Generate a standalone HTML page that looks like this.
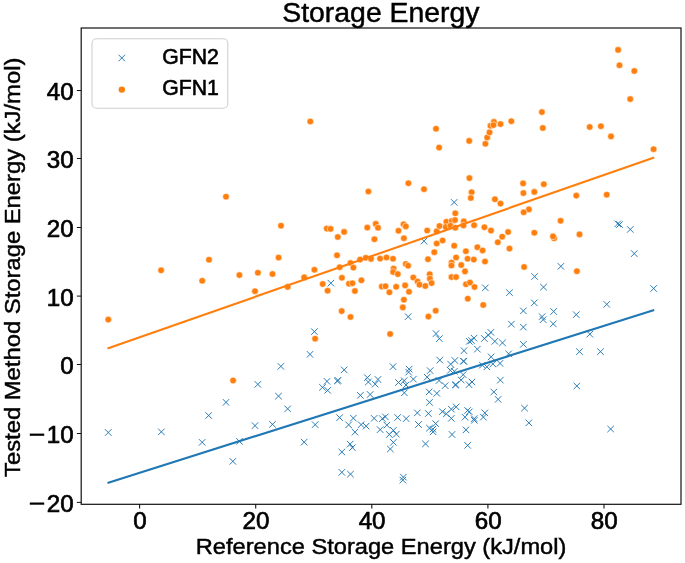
<!DOCTYPE html>
<html><head><meta charset="utf-8"><style>html,body{margin:0;padding:0;background:#fff;width:685px;height:563px;overflow:hidden}</style></head><body><svg width="685" height="563" viewBox="0 0 685 563" style="display:block;will-change:transform">
<rect x="0" y="0" width="685" height="563" fill="#fff"/>
<defs><clipPath id="c"><rect x="81.2" y="28.0" width="599.8" height="476.3"/></clipPath></defs>
<g clip-path="url(#c)" stroke="#1f77b4" stroke-width="0.95" fill="none">
<path d="M105.0 429.2L111.5 435.8M105.0 435.8L111.5 429.2M158.1 428.6L164.6 435.1M158.1 435.1L164.6 428.6M254.6 381.1L261.1 387.6M254.6 387.6L261.1 381.1M222.8 399.1L229.2 405.6M222.8 405.6L229.2 399.1M205.4 412.2L211.9 418.8M205.4 418.8L211.9 412.2M277.6 363.1L284.1 369.6M277.6 369.6L284.1 363.1M275.2 392.9L281.8 399.4M275.2 399.4L281.8 392.9M198.9 439.1L205.4 445.6M198.9 445.6L205.4 439.1M236.2 438.1L242.7 444.6M236.2 444.6L242.7 438.1M229.6 458.1L236.1 464.6M229.6 464.6L236.1 458.1M251.8 422.4L258.2 428.9M251.8 428.9L258.2 422.4M269.2 421.1L275.8 427.6M269.2 427.6L275.8 421.1M327.6 279.9L334.1 286.4M327.6 286.4L334.1 279.9M311.1 328.4L317.6 334.9M311.1 334.9L317.6 328.4M306.8 351.1L313.2 357.6M306.8 357.6L313.2 351.1M340.9 366.6L347.4 373.1M340.9 373.1L347.4 366.6M323.8 378.1L330.2 384.6M323.8 384.6L330.2 378.1M319.2 384.1L325.8 390.6M319.2 390.6L325.8 384.1M324.4 387.1L330.9 393.6M324.4 393.6L330.9 387.1M334.1 377.8L340.6 384.2M334.1 384.2L340.6 377.8M334.8 377.1L341.2 383.6M334.8 383.6L341.2 377.1M364.1 374.4L370.6 380.9M364.1 380.9L370.6 374.4M365.1 378.8L371.6 385.2M365.1 385.2L371.6 378.8M371.9 380.9L378.4 387.4M371.9 387.4L378.4 380.9M357.1 392.1L363.6 398.6M357.1 398.6L363.6 392.1M366.9 391.2L373.4 397.8M366.9 397.8L373.4 391.2M284.4 405.6L290.9 412.1M284.4 412.1L290.9 405.6M311.9 421.4L318.4 427.9M311.9 427.9L318.4 421.4M300.9 438.9L307.4 445.4M300.9 445.4L307.4 438.9M336.4 414.4L342.9 420.9M336.4 420.9L342.9 414.4M350.1 414.9L356.6 421.4M350.1 421.4L356.6 414.9M345.4 421.6L351.9 428.1M345.4 428.1L351.9 421.6M351.8 428.9L358.2 435.4M351.8 435.4L358.2 428.9M357.9 421.4L364.4 427.9M357.9 427.9L364.4 421.4M362.9 422.9L369.4 429.4M362.9 429.4L369.4 422.9M370.9 415.1L377.4 421.6M370.9 421.6L377.4 415.1M346.9 440.9L353.4 447.4M346.9 447.4L353.4 440.9M349.1 444.4L355.6 450.9M349.1 450.9L355.6 444.4M338.6 448.8L345.1 455.2M338.6 455.2L345.1 448.8M338.6 469.1L345.1 475.6M338.6 475.6L345.1 469.1M347.2 470.9L353.8 477.4M347.2 477.4L353.8 470.9M450.9 199.1L457.4 205.6M450.9 205.6L457.4 199.1M420.8 237.9L427.2 244.4M420.8 244.4L427.2 237.9M404.9 313.4L411.4 319.9M404.9 319.9L411.4 313.4M432.8 330.4L439.2 336.9M432.8 336.9L439.2 330.4M436.1 335.4L442.6 341.9M436.1 341.9L442.6 335.4M460.8 347.4L467.2 353.9M460.8 353.9L467.2 347.4M436.6 356.9L443.1 363.4M436.6 363.4L443.1 356.9M451.6 357.2L458.1 363.8M451.6 363.8L458.1 357.2M460.1 357.9L466.6 364.4M460.1 364.4L466.6 357.9M447.4 360.9L453.9 367.4M447.4 367.4L453.9 360.9M389.8 363.4L396.2 369.9M389.8 369.9L396.2 363.4M405.9 365.9L412.4 372.4M405.9 372.4L412.4 365.9M405.4 368.9L411.9 375.4M405.4 375.4L411.9 368.9M426.9 367.4L433.4 373.9M426.9 373.9L433.4 367.4M374.8 376.2L381.2 382.8M374.8 382.8L381.2 376.2M410.1 375.9L416.6 382.4M410.1 382.4L416.6 375.9M395.2 379.2L401.8 385.8M395.2 385.8L401.8 379.2M400.9 377.4L407.4 383.9M400.9 383.9L407.4 377.4M402.8 381.8L409.2 388.2M402.8 388.2L409.2 381.8M401.1 389.6L407.6 396.1M401.1 396.1L407.6 389.6M423.9 373.9L430.4 380.4M423.9 380.4L430.4 373.9M447.1 367.1L453.6 373.6M447.1 373.6L453.6 367.1M451.1 368.1L457.6 374.6M451.1 374.6L457.6 368.1M435.8 377.2L442.2 383.8M435.8 383.8L442.2 377.2M441.9 382.4L448.4 388.9M441.9 388.9L448.4 382.4M452.6 381.4L459.1 387.9M452.6 387.9L459.1 381.4M452.1 381.8L458.6 388.2M452.1 388.2L458.6 381.8M425.9 388.6L432.4 395.1M425.9 395.1L432.4 388.6M433.6 390.1L440.1 396.6M433.6 396.6L440.1 390.1M379.1 415.4L385.6 421.9M379.1 421.9L385.6 415.4M382.1 413.6L388.6 420.1M382.1 420.1L388.6 413.6M394.4 414.2L400.9 420.8M394.4 420.8L400.9 414.2M402.9 415.4L409.4 421.9M402.9 421.9L409.4 415.4M383.6 421.9L390.1 428.4M383.6 428.4L390.1 421.9M376.9 426.4L383.4 432.9M376.9 432.9L383.4 426.4M390.1 427.1L396.6 433.6M390.1 433.6L396.6 427.1M386.1 431.2L392.6 437.8M386.1 437.8L392.6 431.2M393.1 430.9L399.6 437.4M393.1 437.4L399.6 430.9M414.1 409.6L420.6 416.1M414.1 416.1L420.6 409.6M415.2 421.2L421.8 427.8M415.2 427.8L421.8 421.2M426.2 399.1L432.8 405.6M426.2 405.6L432.8 399.1M425.1 410.2L431.6 416.8M425.1 416.8L431.6 410.2M439.1 408.4L445.6 414.9M439.1 414.9L445.6 408.4M443.1 410.6L449.6 417.1M443.1 417.1L449.6 410.6M448.1 405.9L454.6 412.4M448.1 412.4L454.6 405.9M452.9 403.6L459.4 410.1M452.9 410.1L459.4 403.6M448.1 415.1L454.6 421.6M448.1 421.6L454.6 415.1M464.4 407.2L470.9 413.8M464.4 413.8L470.9 407.2M461.8 413.9L468.2 420.4M461.8 420.4L468.2 413.9M432.4 420.4L438.9 426.9M432.4 426.9L438.9 420.4M426.2 424.9L432.8 431.4M426.2 431.4L432.8 424.9M429.6 425.9L436.1 432.4M429.6 432.4L436.1 425.9M429.9 428.6L436.4 435.1M429.9 435.1L436.4 428.6M448.8 431.2L455.2 437.8M448.8 437.8L455.2 431.2M462.8 426.6L469.2 433.1M462.8 433.1L469.2 426.6M390.1 439.1L396.6 445.6M390.1 445.6L396.6 439.1M387.1 445.8L393.6 452.2M387.1 452.2L393.6 445.8M422.2 440.6L428.8 447.1M422.2 447.1L428.8 440.6M464.4 442.1L470.9 448.6M464.4 448.6L470.9 442.1M400.1 473.9L406.6 480.4M400.1 480.4L406.6 473.9M399.6 476.9L406.1 483.4M399.6 483.4L406.1 476.9M466.1 338.1L472.6 344.6M466.1 344.6L472.6 338.1M468.2 337.4L474.8 343.9M468.2 343.9L474.8 337.4M470.8 334.9L477.2 341.4M470.8 341.4L477.2 334.9M474.1 345.9L480.6 352.4M474.1 352.4L480.6 345.9M460.6 358.1L467.1 364.6M460.6 364.6L467.1 358.1M481.1 335.2L487.6 341.8M481.1 341.8L487.6 335.2M485.1 331.9L491.6 338.4M485.1 338.4L491.6 331.9M487.6 329.1L494.1 335.6M487.6 335.6L494.1 329.1M491.6 338.1L498.1 344.6M491.6 344.6L498.1 338.1M499.2 339.6L505.8 346.1M499.2 346.1L505.8 339.6M487.9 353.6L494.4 360.1M487.9 360.1L494.4 353.6M505.4 350.6L511.9 357.1M505.4 357.1L511.9 350.6M496.8 360.1L503.2 366.6M496.8 366.6L503.2 360.1M489.6 360.8L496.1 367.2M489.6 367.2L496.1 360.8M479.1 361.9L485.6 368.4M479.1 368.4L485.6 361.9M483.6 363.6L490.1 370.1M483.6 370.1L490.1 363.6M497.1 376.9L503.6 383.4M497.1 383.4L503.6 376.9M490.6 388.8L497.1 395.2M490.6 395.2L497.1 388.8M494.9 396.1L501.4 402.6M494.9 402.6L501.4 396.1M466.1 408.6L472.6 415.1M466.1 415.1L472.6 408.6M470.9 415.4L477.4 421.9M470.9 421.9L477.4 415.4M471.1 417.1L477.6 423.6M471.1 423.6L477.6 417.1M481.6 409.6L488.1 416.1M481.6 416.1L488.1 409.6M480.1 413.9L486.6 420.4M480.1 420.4L486.6 413.9M521.2 404.9L527.8 411.4M521.2 411.4L527.8 404.9M525.6 419.6L532.1 426.1M525.6 426.1L532.1 419.6M482.1 284.6L488.6 291.1M482.1 291.1L488.6 284.6M506.2 289.4L512.8 295.9M506.2 295.9L512.8 289.4M531.4 273.2L537.9 279.8M531.4 279.8L537.9 273.2M540.2 283.9L546.8 290.4M540.2 290.4L546.8 283.9M557.6 263.1L564.1 269.6M557.6 269.6L564.1 263.1M531.0 299.6L537.5 306.1M531.0 306.1L537.5 299.6M520.1 307.6L526.6 314.1M520.1 314.1L526.6 307.6M550.4 308.2L556.9 314.8M550.4 314.8L556.9 308.2M538.9 313.4L545.4 319.9M538.9 319.9L545.4 313.4M539.9 316.4L546.4 322.9M539.9 322.9L546.4 316.4M508.1 320.9L514.6 327.4M508.1 327.4L514.6 320.9M520.1 323.9L526.6 330.4M520.1 330.4L526.6 323.9M550.0 320.6L556.5 327.1M550.0 327.1L556.5 320.6M520.1 341.1L526.6 347.6M520.1 347.6L526.6 341.1M614.5 220.6L621.0 227.1M614.5 227.1L621.0 220.6M616.2 221.3L622.8 227.8M616.2 227.8L622.8 221.3M627.0 226.2L633.5 232.7M627.0 232.7L633.5 226.2M631.0 250.3L637.5 256.9M631.0 256.9L637.5 250.3M650.4 285.2L656.9 291.8M650.4 291.8L656.9 285.2M603.5 301.1L610.0 307.6M603.5 307.6L610.0 301.1M573.0 311.4L579.5 317.9M573.0 317.9L579.5 311.4M586.6 330.9L593.1 337.4M586.6 337.4L593.1 330.9M576.2 348.4L582.8 354.9M576.2 354.9L582.8 348.4M597.2 348.4L603.8 354.9M597.2 354.9L603.8 348.4M573.6 382.8L580.1 389.2M573.6 389.2L580.1 382.8M607.4 425.8L613.9 432.2M607.4 432.2L613.9 425.8M459.9 371.4L466.4 377.9M459.9 377.9L466.4 371.4M457.9 376.8L464.4 383.2M457.9 383.2L464.4 376.8M465.8 381.4L472.2 387.9M465.8 387.9L472.2 381.4M468.8 378.8L475.2 385.2M468.8 385.2L475.2 378.8"/>
</g>
<g clip-path="url(#c)" fill="#ff7f0e" stroke="#fff" stroke-width="0.55">
<circle cx="108.3" cy="319.6" r="3.3"/>
<circle cx="161.1" cy="270.3" r="3.3"/>
<circle cx="226.0" cy="196.7" r="3.3"/>
<circle cx="209.0" cy="259.7" r="3.3"/>
<circle cx="202.2" cy="280.8" r="3.3"/>
<circle cx="239.4" cy="275.1" r="3.3"/>
<circle cx="257.9" cy="272.8" r="3.3"/>
<circle cx="272.5" cy="274.0" r="3.3"/>
<circle cx="255.0" cy="291.2" r="3.3"/>
<circle cx="278.6" cy="257.6" r="3.3"/>
<circle cx="281.0" cy="225.7" r="3.3"/>
<circle cx="233.1" cy="380.5" r="3.3"/>
<circle cx="310.3" cy="121.5" r="3.3"/>
<circle cx="368.4" cy="191.5" r="3.3"/>
<circle cx="326.8" cy="228.6" r="3.3"/>
<circle cx="330.5" cy="228.9" r="3.3"/>
<circle cx="344.1" cy="231.9" r="3.3"/>
<circle cx="337.8" cy="237.0" r="3.3"/>
<circle cx="367.3" cy="227.6" r="3.3"/>
<circle cx="337.0" cy="255.3" r="3.3"/>
<circle cx="314.4" cy="269.8" r="3.3"/>
<circle cx="304.2" cy="277.4" r="3.3"/>
<circle cx="287.7" cy="286.9" r="3.3"/>
<circle cx="322.7" cy="284.0" r="3.3"/>
<circle cx="327.6" cy="290.7" r="3.3"/>
<circle cx="339.7" cy="267.2" r="3.3"/>
<circle cx="341.9" cy="277.8" r="3.3"/>
<circle cx="350.5" cy="263.0" r="3.3"/>
<circle cx="353.4" cy="267.6" r="3.3"/>
<circle cx="349.0" cy="283.7" r="3.3"/>
<circle cx="352.4" cy="283.2" r="3.3"/>
<circle cx="361.4" cy="280.3" r="3.3"/>
<circle cx="354.9" cy="291.0" r="3.3"/>
<circle cx="360.1" cy="259.6" r="3.3"/>
<circle cx="365.8" cy="257.8" r="3.3"/>
<circle cx="371.0" cy="258.9" r="3.3"/>
<circle cx="341.7" cy="311.1" r="3.3"/>
<circle cx="350.5" cy="317.0" r="3.3"/>
<circle cx="315.1" cy="338.7" r="3.3"/>
<circle cx="436.0" cy="128.8" r="3.3"/>
<circle cx="439.1" cy="147.6" r="3.3"/>
<circle cx="408.4" cy="183.2" r="3.3"/>
<circle cx="424.0" cy="189.2" r="3.3"/>
<circle cx="455.3" cy="213.3" r="3.3"/>
<circle cx="375.8" cy="223.9" r="3.3"/>
<circle cx="378.0" cy="227.8" r="3.3"/>
<circle cx="403.6" cy="224.3" r="3.3"/>
<circle cx="405.8" cy="226.4" r="3.3"/>
<circle cx="398.5" cy="230.8" r="3.3"/>
<circle cx="374.4" cy="239.2" r="3.3"/>
<circle cx="403.9" cy="238.2" r="3.3"/>
<circle cx="427.2" cy="230.5" r="3.3"/>
<circle cx="436.7" cy="231.3" r="3.3"/>
<circle cx="439.5" cy="226.0" r="3.3"/>
<circle cx="446.4" cy="221.8" r="3.3"/>
<circle cx="451.7" cy="221.1" r="3.3"/>
<circle cx="455.0" cy="220.1" r="3.3"/>
<circle cx="445.8" cy="227.0" r="3.3"/>
<circle cx="450.4" cy="225.7" r="3.3"/>
<circle cx="455.3" cy="227.7" r="3.3"/>
<circle cx="463.8" cy="221.4" r="3.3"/>
<circle cx="463.5" cy="225.4" r="3.3"/>
<circle cx="436.7" cy="243.5" r="3.3"/>
<circle cx="442.6" cy="240.5" r="3.3"/>
<circle cx="454.2" cy="245.7" r="3.3"/>
<circle cx="434.3" cy="252.2" r="3.3"/>
<circle cx="465.9" cy="251.2" r="3.3"/>
<circle cx="380.1" cy="258.6" r="3.3"/>
<circle cx="386.5" cy="257.5" r="3.3"/>
<circle cx="393.0" cy="258.8" r="3.3"/>
<circle cx="405.8" cy="264.0" r="3.3"/>
<circle cx="408.1" cy="265.7" r="3.3"/>
<circle cx="393.6" cy="268.6" r="3.3"/>
<circle cx="393.1" cy="272.0" r="3.3"/>
<circle cx="397.8" cy="274.1" r="3.3"/>
<circle cx="413.3" cy="277.5" r="3.3"/>
<circle cx="417.6" cy="281.5" r="3.3"/>
<circle cx="419.5" cy="284.7" r="3.3"/>
<circle cx="425.3" cy="286.0" r="3.3"/>
<circle cx="429.7" cy="274.2" r="3.3"/>
<circle cx="429.9" cy="278.7" r="3.3"/>
<circle cx="431.6" cy="283.1" r="3.3"/>
<circle cx="381.8" cy="286.6" r="3.3"/>
<circle cx="385.5" cy="286.2" r="3.3"/>
<circle cx="396.2" cy="286.8" r="3.3"/>
<circle cx="405.1" cy="285.4" r="3.3"/>
<circle cx="389.4" cy="292.3" r="3.3"/>
<circle cx="409.0" cy="291.8" r="3.3"/>
<circle cx="403.9" cy="299.7" r="3.3"/>
<circle cx="402.8" cy="307.4" r="3.3"/>
<circle cx="428.4" cy="316.6" r="3.3"/>
<circle cx="435.7" cy="310.7" r="3.3"/>
<circle cx="428.0" cy="259.2" r="3.3"/>
<circle cx="456.1" cy="257.5" r="3.3"/>
<circle cx="467.6" cy="258.8" r="3.3"/>
<circle cx="451.6" cy="262.6" r="3.3"/>
<circle cx="451.4" cy="265.5" r="3.3"/>
<circle cx="461.2" cy="265.0" r="3.3"/>
<circle cx="465.0" cy="271.4" r="3.3"/>
<circle cx="451.5" cy="277.1" r="3.3"/>
<circle cx="456.0" cy="277.1" r="3.3"/>
<circle cx="466.0" cy="284.3" r="3.3"/>
<circle cx="470.0" cy="282.6" r="3.3"/>
<circle cx="467.8" cy="298.7" r="3.3"/>
<circle cx="390.1" cy="334.0" r="3.3"/>
<circle cx="469.2" cy="140.9" r="3.3"/>
<circle cx="469.4" cy="178.1" r="3.3"/>
<circle cx="485.4" cy="143.8" r="3.3"/>
<circle cx="487.2" cy="137.5" r="3.3"/>
<circle cx="489.5" cy="132.4" r="3.3"/>
<circle cx="490.5" cy="125.8" r="3.3"/>
<circle cx="493.9" cy="121.9" r="3.3"/>
<circle cx="493.5" cy="125.1" r="3.3"/>
<circle cx="500.5" cy="124.1" r="3.3"/>
<circle cx="511.3" cy="121.2" r="3.3"/>
<circle cx="541.9" cy="112.1" r="3.3"/>
<circle cx="542.8" cy="128.0" r="3.3"/>
<circle cx="523.1" cy="183.4" r="3.3"/>
<circle cx="543.8" cy="184.2" r="3.3"/>
<circle cx="471.6" cy="192.2" r="3.3"/>
<circle cx="470.8" cy="198.0" r="3.3"/>
<circle cx="494.9" cy="199.2" r="3.3"/>
<circle cx="500.5" cy="203.6" r="3.3"/>
<circle cx="523.4" cy="193.1" r="3.3"/>
<circle cx="534.3" cy="191.9" r="3.3"/>
<circle cx="528.9" cy="209.4" r="3.3"/>
<circle cx="523.7" cy="212.3" r="3.3"/>
<circle cx="560.6" cy="220.8" r="3.3"/>
<circle cx="474.1" cy="225.2" r="3.3"/>
<circle cx="484.4" cy="227.2" r="3.3"/>
<circle cx="491.0" cy="230.6" r="3.3"/>
<circle cx="508.1" cy="232.0" r="3.3"/>
<circle cx="502.2" cy="236.7" r="3.3"/>
<circle cx="497.8" cy="242.3" r="3.3"/>
<circle cx="534.3" cy="232.8" r="3.3"/>
<circle cx="554.1" cy="238.3" r="3.3"/>
<circle cx="553.0" cy="236.4" r="3.3"/>
<circle cx="477.4" cy="247.2" r="3.3"/>
<circle cx="482.6" cy="250.5" r="3.3"/>
<circle cx="509.5" cy="248.6" r="3.3"/>
<circle cx="473.8" cy="259.6" r="3.3"/>
<circle cx="485.0" cy="261.5" r="3.3"/>
<circle cx="524.1" cy="267.0" r="3.3"/>
<circle cx="474.5" cy="287.0" r="3.3"/>
<circle cx="483.2" cy="305.0" r="3.3"/>
<circle cx="618.1" cy="49.9" r="3.3"/>
<circle cx="619.5" cy="65.3" r="3.3"/>
<circle cx="634.3" cy="71.0" r="3.3"/>
<circle cx="630.2" cy="99.1" r="3.3"/>
<circle cx="589.7" cy="127.0" r="3.3"/>
<circle cx="600.9" cy="126.2" r="3.3"/>
<circle cx="611.0" cy="136.4" r="3.3"/>
<circle cx="653.6" cy="149.2" r="3.3"/>
<circle cx="576.3" cy="195.6" r="3.3"/>
<circle cx="606.7" cy="194.7" r="3.3"/>
<circle cx="579.5" cy="234.4" r="3.3"/>
<circle cx="576.9" cy="271.2" r="3.3"/>
</g>
<line x1="107.5" y1="348.4" x2="654.2" y2="157.4" stroke="#ff7f0e" stroke-width="2.1"/>
<line x1="107.5" y1="482.9" x2="654.2" y2="309.9" stroke="#1f77b4" stroke-width="2.1"/>
<rect x="81.2" y="28.0" width="599.8" height="476.3" fill="none" stroke="#111" stroke-width="1.2"/>
<line x1="76.9" y1="90.50" x2="81.2" y2="90.50" stroke="#111" stroke-width="1.0"/>
<line x1="76.9" y1="158.50" x2="81.2" y2="158.50" stroke="#111" stroke-width="1.0"/>
<line x1="76.9" y1="227.50" x2="81.2" y2="227.50" stroke="#111" stroke-width="1.0"/>
<line x1="76.9" y1="296.10" x2="81.2" y2="296.10" stroke="#111" stroke-width="1.0"/>
<line x1="76.9" y1="364.50" x2="81.2" y2="364.50" stroke="#111" stroke-width="1.0"/>
<line x1="76.9" y1="433.50" x2="81.2" y2="433.50" stroke="#111" stroke-width="1.0"/>
<line x1="76.9" y1="502.40" x2="81.2" y2="502.40" stroke="#111" stroke-width="1.0"/>
<line x1="139.60" y1="504.3" x2="139.60" y2="508.6" stroke="#111" stroke-width="1.1"/>
<line x1="255.70" y1="504.3" x2="255.70" y2="508.6" stroke="#111" stroke-width="1.1"/>
<line x1="371.80" y1="504.3" x2="371.80" y2="508.6" stroke="#111" stroke-width="1.1"/>
<line x1="487.90" y1="504.3" x2="487.90" y2="508.6" stroke="#111" stroke-width="1.1"/>
<line x1="604.00" y1="504.3" x2="604.00" y2="508.6" stroke="#111" stroke-width="1.1"/>
<text x="73.7" y="99.8" font-family='"Liberation Sans", sans-serif' font-size="23.0" text-anchor="end" stroke="#000" stroke-width="0.65" textLength="26.9" lengthAdjust="spacingAndGlyphs">40</text>
<text x="73.7" y="167.8" font-family='"Liberation Sans", sans-serif' font-size="23.0" text-anchor="end" stroke="#000" stroke-width="0.65" textLength="26.9" lengthAdjust="spacingAndGlyphs">30</text>
<text x="73.7" y="236.8" font-family='"Liberation Sans", sans-serif' font-size="23.0" text-anchor="end" stroke="#000" stroke-width="0.65" textLength="26.9" lengthAdjust="spacingAndGlyphs">20</text>
<text x="73.7" y="305.5" font-family='"Liberation Sans", sans-serif' font-size="23.0" text-anchor="end" stroke="#000" stroke-width="0.65" textLength="26.9" lengthAdjust="spacingAndGlyphs">10</text>
<text x="73.7" y="373.9" font-family='"Liberation Sans", sans-serif' font-size="23.0" text-anchor="end" stroke="#000" stroke-width="0.65" textLength="13.45" lengthAdjust="spacingAndGlyphs">0</text>
<text x="73.7" y="442.9" font-family='"Liberation Sans", sans-serif' font-size="23.0" text-anchor="end" stroke="#000" stroke-width="0.65" textLength="26.9" lengthAdjust="spacingAndGlyphs">10</text>
<rect x="29.8" y="433.60" width="14.4" height="2.2" fill="#000"/>
<text x="73.7" y="511.8" font-family='"Liberation Sans", sans-serif' font-size="23.0" text-anchor="end" stroke="#000" stroke-width="0.65" textLength="26.9" lengthAdjust="spacingAndGlyphs">20</text>
<rect x="29.8" y="502.50" width="14.4" height="2.2" fill="#000"/>
<text x="139.9" y="529.3" font-family='"Liberation Sans", sans-serif' font-size="23.0" text-anchor="middle" stroke="#000" stroke-width="0.65" textLength="13.45" lengthAdjust="spacingAndGlyphs">0</text>
<text x="256.0" y="529.3" font-family='"Liberation Sans", sans-serif' font-size="23.0" text-anchor="middle" stroke="#000" stroke-width="0.65" textLength="26.9" lengthAdjust="spacingAndGlyphs">20</text>
<text x="372.1" y="529.3" font-family='"Liberation Sans", sans-serif' font-size="23.0" text-anchor="middle" stroke="#000" stroke-width="0.65" textLength="26.9" lengthAdjust="spacingAndGlyphs">40</text>
<text x="488.2" y="529.3" font-family='"Liberation Sans", sans-serif' font-size="23.0" text-anchor="middle" stroke="#000" stroke-width="0.65" textLength="26.9" lengthAdjust="spacingAndGlyphs">60</text>
<text x="604.3" y="529.3" font-family='"Liberation Sans", sans-serif' font-size="23.0" text-anchor="middle" stroke="#000" stroke-width="0.65" textLength="26.9" lengthAdjust="spacingAndGlyphs">80</text>
<text x="282.2" y="22.0" font-family='"Liberation Sans", sans-serif' font-size="26.8" text-anchor="start" stroke="#000" stroke-width="0.45" textLength="197.4" lengthAdjust="spacingAndGlyphs">Storage Energy</text>
<text x="195.8" y="553.9" font-family='"Liberation Sans", sans-serif' font-size="22.6" text-anchor="start" stroke="#000" stroke-width="0.45" textLength="370.6" lengthAdjust="spacingAndGlyphs">Reference Storage Energy (kJ/mol)</text>
<text x="0" y="0" font-family='"Liberation Sans", sans-serif' font-size="22.8" text-anchor="start" stroke="#000" stroke-width="0.45" textLength="419.4" lengthAdjust="spacingAndGlyphs" transform="translate(19.7 477.0) rotate(-90)">Tested Method Storage Energy (kJ/mol)</text>
<rect x="92.0" y="38.8" width="135.8" height="69.4" rx="4.5" ry="4.5" fill="#fff" fill-opacity="0.8" stroke="#d0d0d0" stroke-width="1.1"/>
<path d="M118.55 54.75L125.05 61.25M118.55 61.25L125.05 54.75" stroke="#1f77b4" stroke-width="0.95" fill="none"/>
<circle cx="121.8" cy="89.6" r="3.2" fill="#ff7f0e"/>
<text x="162.2" y="64.4" font-family='"Liberation Sans", sans-serif' font-size="22.4" text-anchor="start" stroke="#000" stroke-width="0.6" textLength="56.6" lengthAdjust="spacingAndGlyphs">GFN2</text>
<text x="162.2" y="95.3" font-family='"Liberation Sans", sans-serif' font-size="22.4" text-anchor="start" stroke="#000" stroke-width="0.6" textLength="56.6" lengthAdjust="spacingAndGlyphs">GFN1</text>
</svg></body></html>
